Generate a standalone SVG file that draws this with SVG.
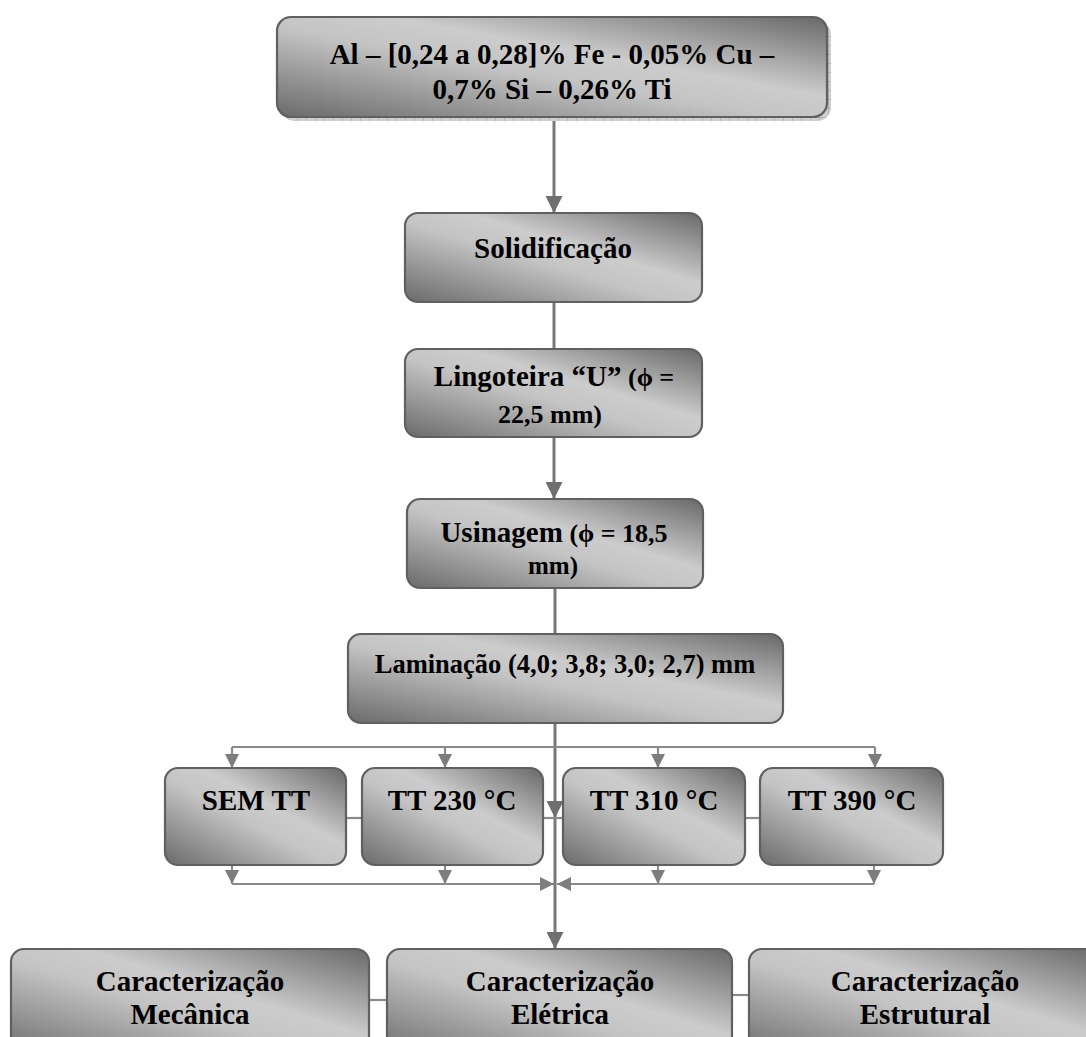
<svg xmlns="http://www.w3.org/2000/svg" width="1086" height="1037" viewBox="0 0 1086 1037">
  <style>
    .box { fill: url(#boxFill); stroke: #606060; stroke-width: 2.2; }
    .t { font-family: 'Liberation Serif', 'DejaVu Serif', serif; font-weight: 700; fill: #000; text-anchor: middle; }
    .main { stroke: #777; stroke-width: 3; fill: none; }
    .thin { stroke: #8a8a8a; stroke-width: 2.2; fill: none; }
  </style>
  <defs>
    <linearGradient id="boxFill" x1="0" y1="1" x2="1" y2="0">
      <stop offset="0" stop-color="#6a6a6a"/>
      <stop offset="0.45" stop-color="#c4c4c4"/>
      <stop offset="0.6" stop-color="#cccccc"/>
      <stop offset="1" stop-color="#686868"/>
    </linearGradient>
    <pattern id="grid" width="9" height="9" patternUnits="userSpaceOnUse">
      <rect width="9" height="9" fill="#cfcfcf"/>
      <path d="M0,0 H9 M0,0 V9" stroke="#9a9a9a" stroke-width="1"/>
    </pattern>
    <marker id="arrBig" viewBox="0 0 16 16" refX="16" refY="8" markerWidth="17" markerHeight="17" orient="auto" markerUnits="userSpaceOnUse">
      <path d="M0,0 L16,8 L0,16 Z" fill="#6f6f6f"/>
    </marker>
    <marker id="arrSmall" viewBox="0 0 14 14" refX="14" refY="7" markerWidth="14" markerHeight="14" orient="auto" markerUnits="userSpaceOnUse">
      <path d="M0,0 L14,7 L0,14 Z" fill="#7d7d7d"/>
    </marker>
  </defs>

  <g id="connectors">
    <!-- main vertical spine -->
    <line class="main" x1="554" y1="118" x2="554" y2="213" marker-end="url(#arrBig)"/>
    <line class="main" x1="554" y1="302" x2="554" y2="349"/>
    <line class="main" x1="554" y1="437" x2="554" y2="499" marker-end="url(#arrBig)"/>
    <line class="main" x1="555" y1="588" x2="555" y2="634"/>
    <line class="main" x1="555" y1="723" x2="555" y2="818" marker-end="url(#arrBig)"/>
    <line class="main" x1="555" y1="818" x2="555" y2="949" marker-end="url(#arrBig)"/>

    <!-- split to the heat-treatment boxes -->
    <polyline class="thin" points="555,747 232,747"/>
    <polyline class="thin" points="555,747 875,747"/>
    <line class="thin" x1="232" y1="747" x2="232" y2="768" marker-end="url(#arrSmall)"/>
    <line class="thin" x1="445" y1="747" x2="445" y2="768" marker-end="url(#arrSmall)"/>
    <line class="thin" x1="658" y1="747" x2="658" y2="768" marker-end="url(#arrSmall)"/>
    <line class="thin" x1="875" y1="747" x2="875" y2="768" marker-end="url(#arrSmall)"/>

    <!-- links between heat-treatment boxes -->
    <line class="thin" x1="346" y1="818" x2="362" y2="818"/>
    <line class="thin" x1="543" y1="818" x2="563" y2="818"/>
    <line class="thin" x1="745" y1="818" x2="760" y2="818"/>

    <!-- merge back into the spine -->
    <line class="thin" x1="232" y1="865" x2="232" y2="884" marker-end="url(#arrSmall)"/>
    <line class="thin" x1="445" y1="865" x2="445" y2="884" marker-end="url(#arrSmall)"/>
    <line class="thin" x1="658" y1="865" x2="658" y2="884" marker-end="url(#arrSmall)"/>
    <line class="thin" x1="874" y1="865" x2="874" y2="884" marker-end="url(#arrSmall)"/>
    <line class="thin" x1="232" y1="884" x2="554" y2="884" marker-end="url(#arrSmall)"/>
    <line class="thin" x1="874" y1="884" x2="557" y2="884" marker-end="url(#arrSmall)"/>

    <!-- links between characterization boxes -->
    <line class="thin" x1="369" y1="1000" x2="387" y2="1000"/>
    <line class="thin" x1="732" y1="995" x2="749" y2="995"/>
  </g>

  <g id="alloy">
    <rect x="281" y="21" width="550" height="100" rx="14" fill="url(#grid)"/>
    <rect class="box" x="277" y="17" width="550" height="100" rx="14"/>
    <text class="t" font-size="29" x="552" y="64">Al – [0,24 a 0,28]% Fe - 0,05% Cu –</text>
    <text class="t" font-size="29" x="552" y="99">0,7% Si – 0,26% Ti</text>
  </g>

  <g id="solidificacao">
    <rect class="box" x="405" y="213" width="297" height="89" rx="13"/>
    <text class="t" font-size="29" x="553" y="258">Solidificação</text>
  </g>

  <g id="lingoteira">
    <rect class="box" x="405" y="349" width="297" height="88" rx="13"/>
    <text class="t" x="554" y="386"><tspan font-size="29">Lingoteira “U”</tspan><tspan font-size="26"> (ϕ =</tspan></text>
    <text class="t" font-size="26" x="550" y="423">22,5 mm)</text>
  </g>

  <g id="usinagem">
    <rect class="box" x="407" y="499" width="296" height="89" rx="13"/>
    <text class="t" x="554" y="542"><tspan font-size="29">Usinagem</tspan><tspan font-size="26"> (ϕ = 18,5</tspan></text>
    <text class="t" font-size="25" x="553" y="574">mm)</text>
  </g>

  <g id="laminacao">
    <rect class="box" x="348" y="634" width="435" height="89" rx="13"/>
    <text class="t" font-size="26.5" x="565" y="673">Laminação (4,0; 3,8; 3,0; 2,7) mm</text>
  </g>

  <g id="sem-tt">
    <rect class="box" x="165" y="768" width="181" height="97" rx="13"/>
    <text class="t" font-size="29" x="256" y="810">SEM TT</text>
  </g>

  <g id="tt-230">
    <rect class="box" x="362" y="768" width="181" height="97" rx="13"/>
    <text class="t" font-size="29" x="452" y="810">TT 230 °C</text>
  </g>

  <g id="tt-310">
    <rect class="box" x="563" y="768" width="182" height="97" rx="13"/>
    <text class="t" font-size="29" x="654" y="810">TT 310 °C</text>
  </g>

  <g id="tt-390">
    <rect class="box" x="760" y="768" width="183" height="97" rx="13"/>
    <text class="t" font-size="29" x="852" y="810">TT 390 °C</text>
  </g>

  <g id="mecanica">
    <rect class="box" x="11" y="949" width="358" height="110" rx="13"/>
    <text class="t" font-size="29" x="190" y="991">Caracterização</text>
    <text class="t" font-size="29" x="190" y="1024">Mecânica</text>
  </g>

  <g id="eletrica">
    <rect class="box" x="387" y="949" width="345" height="110" rx="13"/>
    <text class="t" font-size="29" x="560" y="991">Caracterização</text>
    <text class="t" font-size="29" x="560" y="1024">Elétrica</text>
  </g>

  <g id="estrutural">
    <rect class="box" x="749" y="949" width="352" height="110" rx="13"/>
    <text class="t" font-size="29" x="925" y="991">Caracterização</text>
    <text class="t" font-size="29" x="925" y="1024">Estrutural</text>
  </g>
</svg>
